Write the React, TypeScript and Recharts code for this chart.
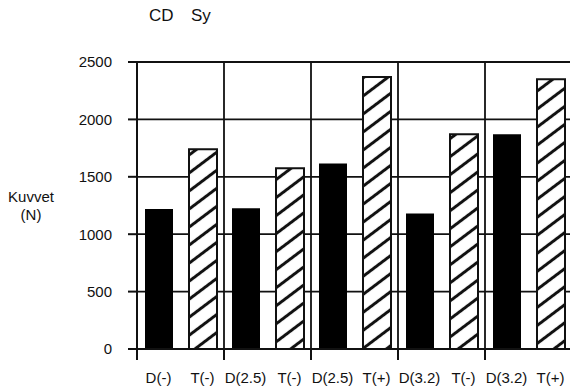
import { BarChart, Bar, XAxis, YAxis, CartesianGrid } from 'recharts';

const dLabels = ['D(-)', 'D(2.5)', 'D(2.5)', 'D(3.2)', 'D(3.2)'];
const tLabels = ['T(-)', 'T(-)', 'T(+)', 'T(-)', 'T(+)'];
const dValues = [1220, 1225, 1615, 1180, 1870];
const tValues = [1740, 1575, 2370, 1870, 2350];
const yTicks = [0, 500, 1000, 1500, 2000, 2500];

const data = dLabels.map((d, i) => ({
  group: i,
  dLabel: d,
  tLabel: tLabels[i],
  d: dValues[i],
  t: tValues[i],
}));

const font = '"Liberation Sans", Arial, sans-serif';
const BAR = 28;
const GAP = 16;

function GroupTick(props: any) {
  const { x, y, payload } = props;
  const half = payload.offset || 0;
  const row = data[payload.value] || data[props.index];
  const shift = GAP / 2 + BAR / 2;
  return (
    <g>
      <line x1={x - half} x2={x - half} y1={y} y2={y + 11} stroke="#111" strokeWidth={2} />
      <line x1={x + half} x2={x + half} y1={y} y2={y + 11} stroke="#111" strokeWidth={2} />
      <text x={x - shift} y={y + 34} textAnchor="middle" fill="#111" fontSize={15} fontFamily={font}>
        {row.dLabel}
      </text>
      <text x={x + shift} y={y + 34} textAnchor="middle" fill="#111" fontSize={15} fontFamily={font}>
        {row.tLabel}
      </text>
    </g>
  );
}

// vertical grid lines at the group boundaries (the category axis has equal bands, no padding)
const groupEdges = ({ offset }: any) => {
  const n = data.length;
  const edges: number[] = [];
  for (let i = 0; i <= n; i++) edges.push(offset.left + (i * offset.width) / n);
  return edges;
};

export default function App() {
  const label = { position: 'absolute' as const, fontFamily: font, color: '#111' };
  return (
    <div style={{ position: 'absolute', left: 0, top: 0, width: 570, height: 392, overflow: 'hidden', background: '#fff' }}>
      <div style={{ ...label, left: 149, top: 6, fontSize: 17 }}>CD</div>
      <div style={{ ...label, left: 191, top: 6, fontSize: 17 }}>Sy</div>
      <div style={{ ...label, left: 0, top: 188, width: 62, textAlign: 'center', fontSize: 15, lineHeight: '18px' }}>
        Kuvvet
        <br />
        (N)
      </div>
      <BarChart width={574} height={392} data={data} margin={{ top: 62, right: 2, bottom: 0, left: 0 }} barGap={GAP}>
        <defs>
          <pattern id="hatch" patternUnits="userSpaceOnUse" width={14.4} height={10} patternTransform="rotate(53)">
            <rect width={14.4} height={10} fill="#fff" />
            <line x1={7.2} y1={-1} x2={7.2} y2={11} stroke="#111" strokeWidth={3} />
          </pattern>
        </defs>
        <CartesianGrid stroke="#111" strokeWidth={1.8} verticalCoordinatesGenerator={groupEdges} />
        <XAxis
          dataKey="group"
          type="category"
          height={43}
          tickLine={false}
          tickSize={0}
          tickMargin={0}
          axisLine={{ stroke: '#111', strokeWidth: 2 }}
          tick={<GroupTick />}
          interval={0}
        />
        <YAxis
          domain={[0, 2500]}
          ticks={yTicks}
          width={137}
          tickSize={9}
          tickMargin={16}
          tickLine={{ stroke: '#111', strokeWidth: 2 }}
          axisLine={{ stroke: '#111', strokeWidth: 2 }}
          tick={{ fill: '#111', fontSize: 15, fontFamily: font }}
        />
        <Bar dataKey="d" barSize={BAR} fill="#000" isAnimationActive={false} />
        <Bar dataKey="t" barSize={BAR} fill="url(#hatch)" stroke="#111" strokeWidth={2} isAnimationActive={false} />
      </BarChart>
    </div>
  );
}
